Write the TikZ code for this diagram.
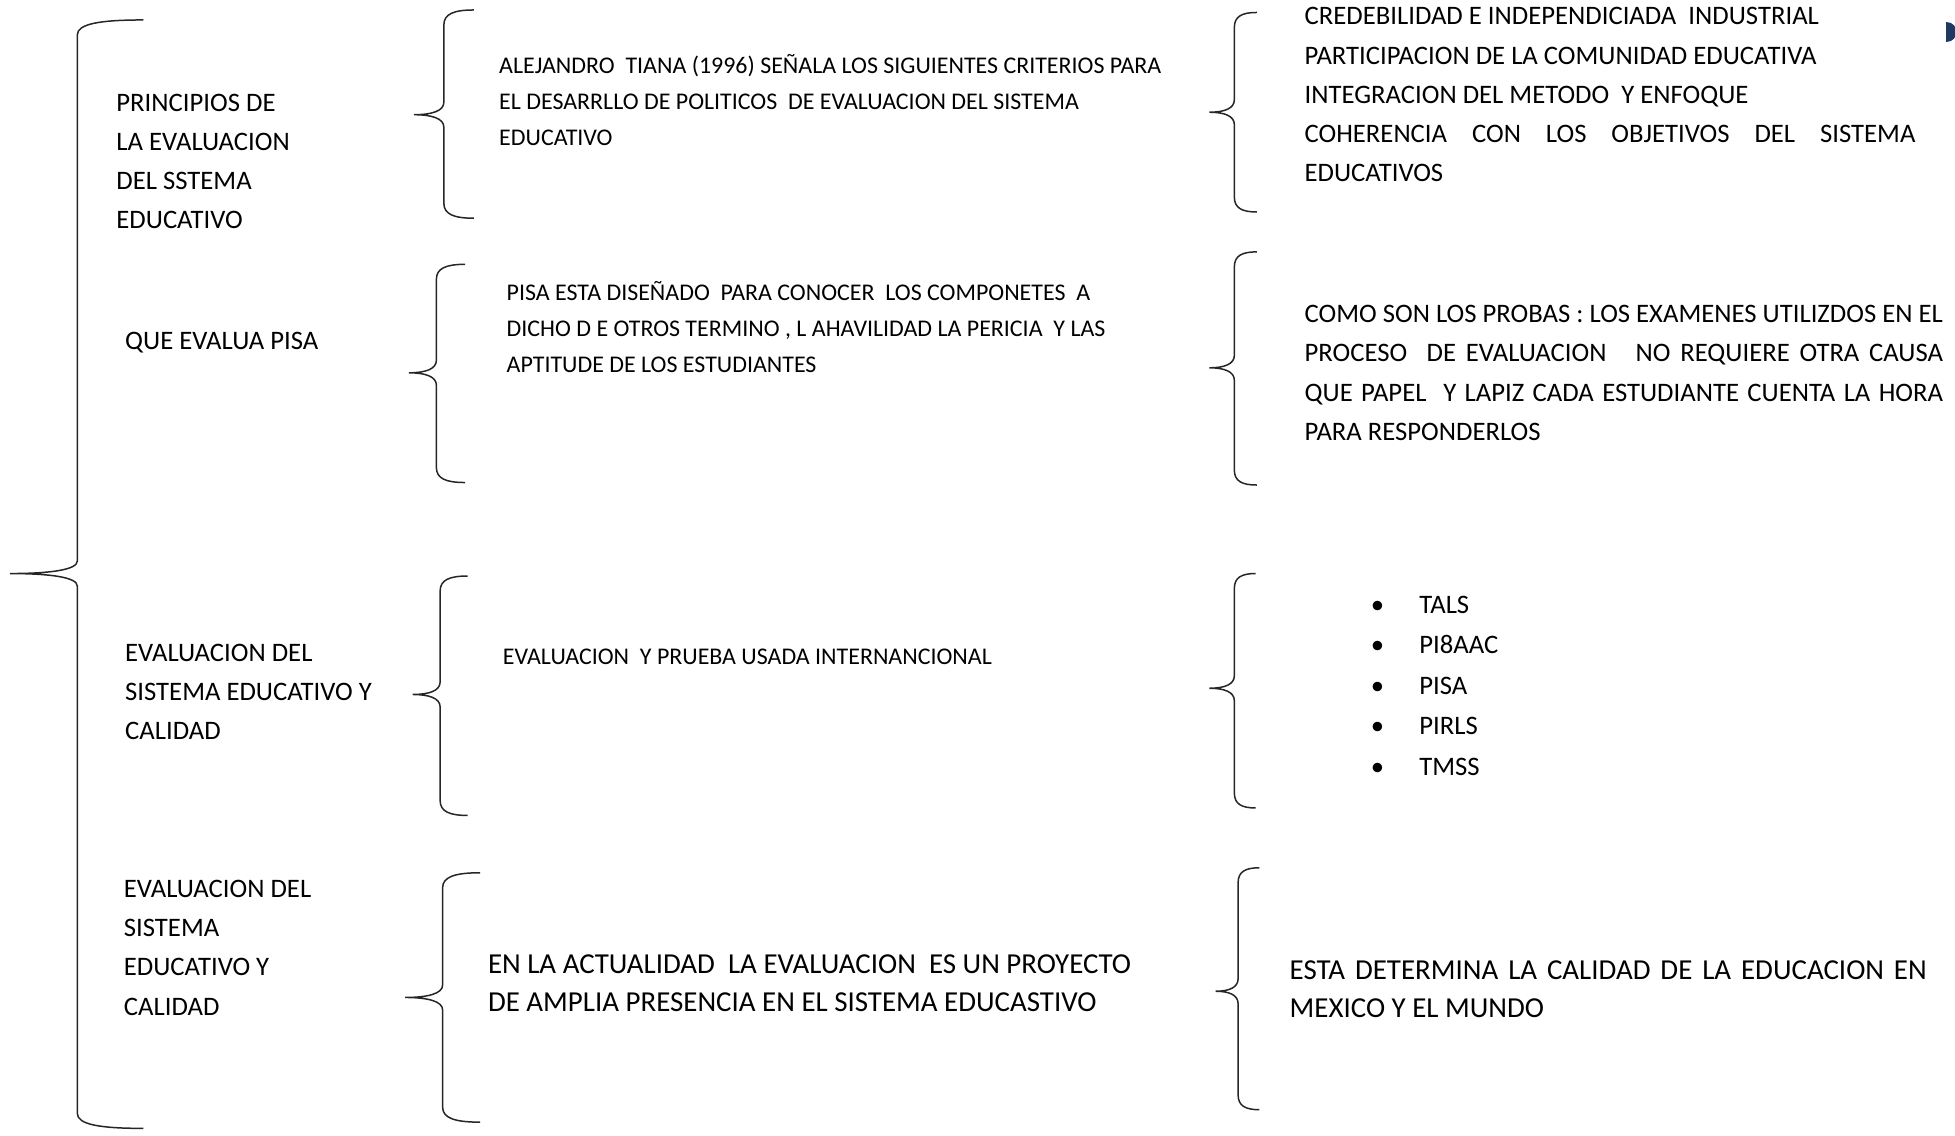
\documentclass[tikz,border=0pt]{standalone}
\usepackage{fontspec}
\setmainfont{Carlito}
\hyphenpenalty=10000
\exhyphenpenalty=10000
\definecolor{marca}{HTML}{1F3864}
% llave: x, arriba, abajo, punta x, punta y, gancho x
\newcommand{\llave}[6]{%
  \draw[llave] (#6,#2) .. controls ({#1+0.35*(#6-#1)},#2) and (#1,{#2+3}) .. (#1,{#2+12})
    -- (#1,{#5-10}) .. controls (#1,{#5-3}) and ({#4+0.6*(#1-#4)},#5) .. (#4,#5)
    .. controls ({#4+0.6*(#1-#4)},#5) and (#1,{#5+3}) .. (#1,{#5+10})
    -- (#1,{#3-12}) .. controls (#1,{#3-3}) and ({#1+0.35*(#6-#1)},#3) .. (#6,#3);}

\begin{document}
\begin{tikzpicture}[x=0.5pt,y=-0.5pt,
   llave/.style={line width=0.6pt,black!85},
   titulo/.style={anchor=west,inner sep=0pt,align=left,font=\fontsize{10.7}{15.75}\selectfont},
   chico/.style={anchor=west,inner sep=0pt,align=left,font=\fontsize{9.6}{14.5}\selectfont},
   grande/.style={anchor=west,inner sep=0pt,align=left,font=\fontsize{11.6}{15.25}\selectfont},
   parrafo/.style={anchor=west,inner sep=0pt,align=justify,font=\fontsize{10.7}{15.75}\selectfont}]
\useasboundingbox (0,0) rectangle (1568,911);

% llaves
\llave{62}{16}{905}{8}{460}{115}
\llave{356}{8}{175}{332}{92}{380}
\llave{350}{212}{387}{328}{299}{373}
\llave{353}{462}{654}{331}{557}{375}
\llave{355}{700}{900}{325}{800}{385}
\llave{990}{10}{170}{970}{90}{1008}
\llave{990}{202}{389}{970}{295}{1008}
\llave{990}{460}{648}{970}{552}{1007}
\llave{993}{696}{890}{975}{795}{1010}

% temas
\node[titulo] (principios) at (93,129.5) {PRINCIPIOS DE\\LA EVALUACION\\DEL SSTEMA\\EDUCATIVO};
\node[titulo] (quepisa) at (100,275) {QUE EVALUA PISA};
\node[titulo] (calidad) at (100,555) {EVALUACION DEL\\SISTEMA EDUCATIVO Y\\CALIDAD};
\node[titulo] (calidadb) at (99,760) {EVALUACION DEL\\SISTEMA\\EDUCATIVO Y\\CALIDAD};

% ideas
\node[chico] (tiana) at (400,80) {ALEJANDRO\ \ TIANA (1996) SEÑALA LOS SIGUIENTES CRITERIOS PARA\\EL DESARRLLO DE POLITICOS\ \ DE EVALUACION DEL SISTEMA\\EDUCATIVO};
\node[chico] (disenado) at (406,262.5) {PISA ESTA DISEÑADO\ \ PARA CONOCER\ \ LOS COMPONETES\ \ A\\DICHO D E OTROS TERMINO , L AHAVILIDAD LA PERICIA\ \ Y LAS\\APTITUDE DE LOS ESTUDIANTES};
\node[chico] (prueba) at (403,527) {EVALUACION\ \ Y PRUEBA USADA INTERNANCIONAL};
\node[grande] (actualidad) at (391,788.5) {EN LA ACTUALIDAD\ \ LA EVALUACION\ \ ES UN PROYECTO\\DE AMPLIA PRESENCIA EN EL SISTEMA EDUCASTIVO};

% detalles
\node[parrafo,text width=245pt] (criterios) at (1046,76) {\parindent=0pt CREDEBILIDAD E INDEPENDICIADA\ \ INDUSTRIAL\par
PARTICIPACION DE LA COMUNIDAD EDUCATIVA\par
INTEGRACION DEL METODO\ \ Y ENFOQUE\par
COHERENCIA CON LOS OBJETIVOS DEL SISTEMA EDUCATIVOS};
\node[parrafo,text width=256pt] (pruebas) at (1046,299) {\parindent=0pt COMO SON LOS PROBAS : LOS EXAMENES UTILIZDOS EN EL\linebreak
PROCESO\ \ DE EVALUACION\ \ \ NO REQUIERE OTRA CAUSA\linebreak
QUE PAPEL\ \ Y LAPIZ CADA ESTUDIANTE CUENTA LA HORA\linebreak
PARA RESPONDERLOS};
\node[titulo,font=\fontsize{10.7}{16.25}\selectfont] (lista) at (1099,550) {\makebox[19.5pt][l]{\textbullet}TALS\\\makebox[19.5pt][l]{\textbullet}PI8AAC\\\makebox[19.5pt][l]{\textbullet}PISA\\\makebox[19.5pt][l]{\textbullet}PIRLS\\\makebox[19.5pt][l]{\textbullet}TMSS};
\node[parrafo,text width=255.5pt,font=\fontsize{11.6}{15.25}\selectfont] (mexico) at (1034,793) {\parindent=0pt ESTA DETERMINA LA CALIDAD DE LA EDUCACION EN MEXICO Y EL MUNDO};

% marca
\fill[marca] (1561,17.5) .. controls (1572,17.5) and (1572,33.5) .. (1561,33.5) -- cycle;
\end{tikzpicture}
\end{document}
